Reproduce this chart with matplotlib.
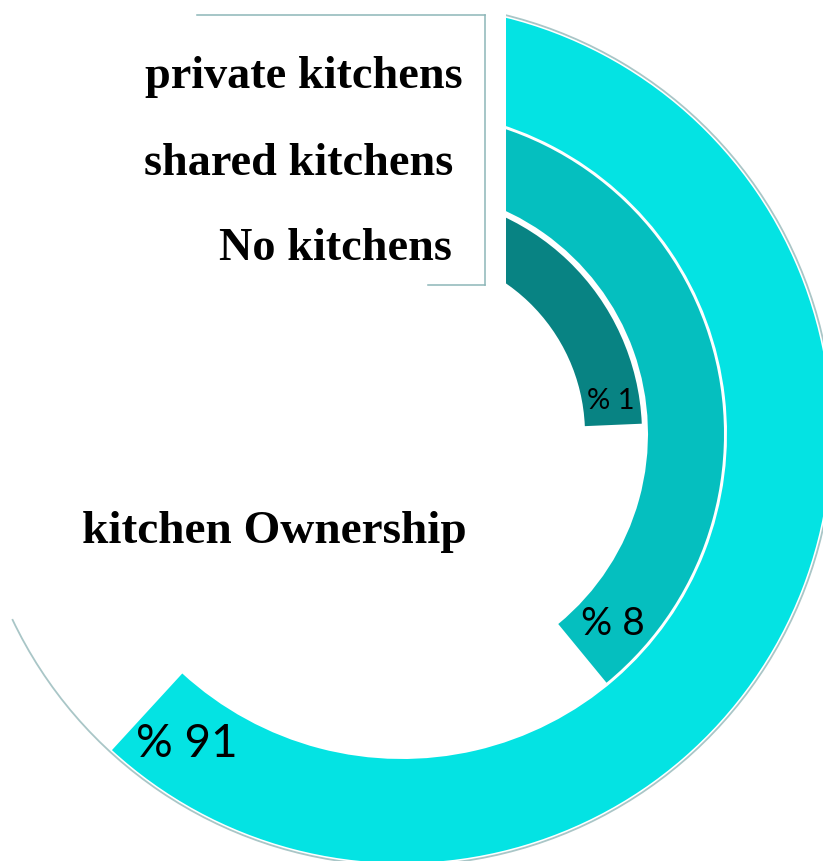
import numpy as np
import matplotlib
matplotlib.use("Agg")
import matplotlib.pyplot as plt
from matplotlib.patches import Wedge, Arc, Rectangle

# Kitchen ownership shares (percent), outer ring to inner ring
categories = ["private kitchens", "shared kitchens", "No kitchens"]
shares = [91, 8, 1]
value_labels = ["% 91", "% 8", "% 1"]
chart_title = "kitchen Ownership"

ring_colors = ["#04E3E3", "#05BFBF", "#088383"]
track_color = "#A9C6C7"
frame_color = "#8DB6B8"

W, H = 823, 861
fig = plt.figure(figsize=(W / 100, H / 100), dpi=100)
ax = fig.add_axes([0, 0, 1, 1])
ax.set_xlim(0, W)
ax.set_ylim(0, H)
ax.set_aspect("equal")
ax.axis("off")


def Y(y_down):
    """Convert a top-down pixel row into the axes' upward y coordinate."""
    return H - y_down


cx, cy = 402, Y(434)
start_deg = 90.0


def sweep_deg(v):
    # compressed angular scale so small shares stay readable
    return 63.1 + 35.26 * np.log1p(v)


r_outer = [429, 322, 240]
r_inner = [325, 246, 183]
label_shift_deg = [7.8, 8.6, 6.4]
label_sizes = [33, 28, 21]

# background track around the outermost ring
ax.add_patch(Arc((cx, cy), 2 * 431.5, 2 * 431.5, theta1=-154.6, theta2=start_deg,
                 color=track_color, lw=1.3, zorder=1))

for val, ro, ri, col, lab, shift, fs in zip(shares, r_outer, r_inner, ring_colors,
                                            value_labels, label_shift_deg, label_sizes):
    end = start_deg - sweep_deg(val)
    ax.add_patch(Wedge((cx, cy), ro, end, start_deg, width=ro - ri,
                       facecolor=col, edgecolor="none", zorder=2))
    a = np.deg2rad(end + shift)
    rm = (ro + ri) / 2
    ax.text(cx + rm * np.cos(a), cy + rm * np.sin(a), lab, fontsize=fs,
            family="Lato", color="black", ha="center", va="center", zorder=5)

# legend panel: white background with a partial frame
ax.add_patch(Rectangle((0, Y(300)), 506, 300, facecolor="white",
                       edgecolor="none", zorder=3))
ax.plot([197, 485], [Y(15), Y(15)], color=frame_color, lw=1.1, zorder=4)
ax.plot([485, 485], [Y(15), Y(285)], color=frame_color, lw=1.1, zorder=4)
ax.plot([428, 485], [Y(285), Y(285)], color=frame_color, lw=1.1, zorder=4)

legend_right = [463, 453, 452]
legend_base = [88, 175, 260]
for name, xr, yb in zip(categories, legend_right, legend_base):
    ax.text(xr, Y(yb), name, fontsize=33.3, family="Liberation Serif",
            weight="bold", ha="right", va="baseline", zorder=5)

ax.text(82, Y(543), chart_title, fontsize=34, family="Liberation Serif",
        weight="bold", ha="left", va="baseline", zorder=5)

fig.savefig("out.png", dpi=100, facecolor="white")
